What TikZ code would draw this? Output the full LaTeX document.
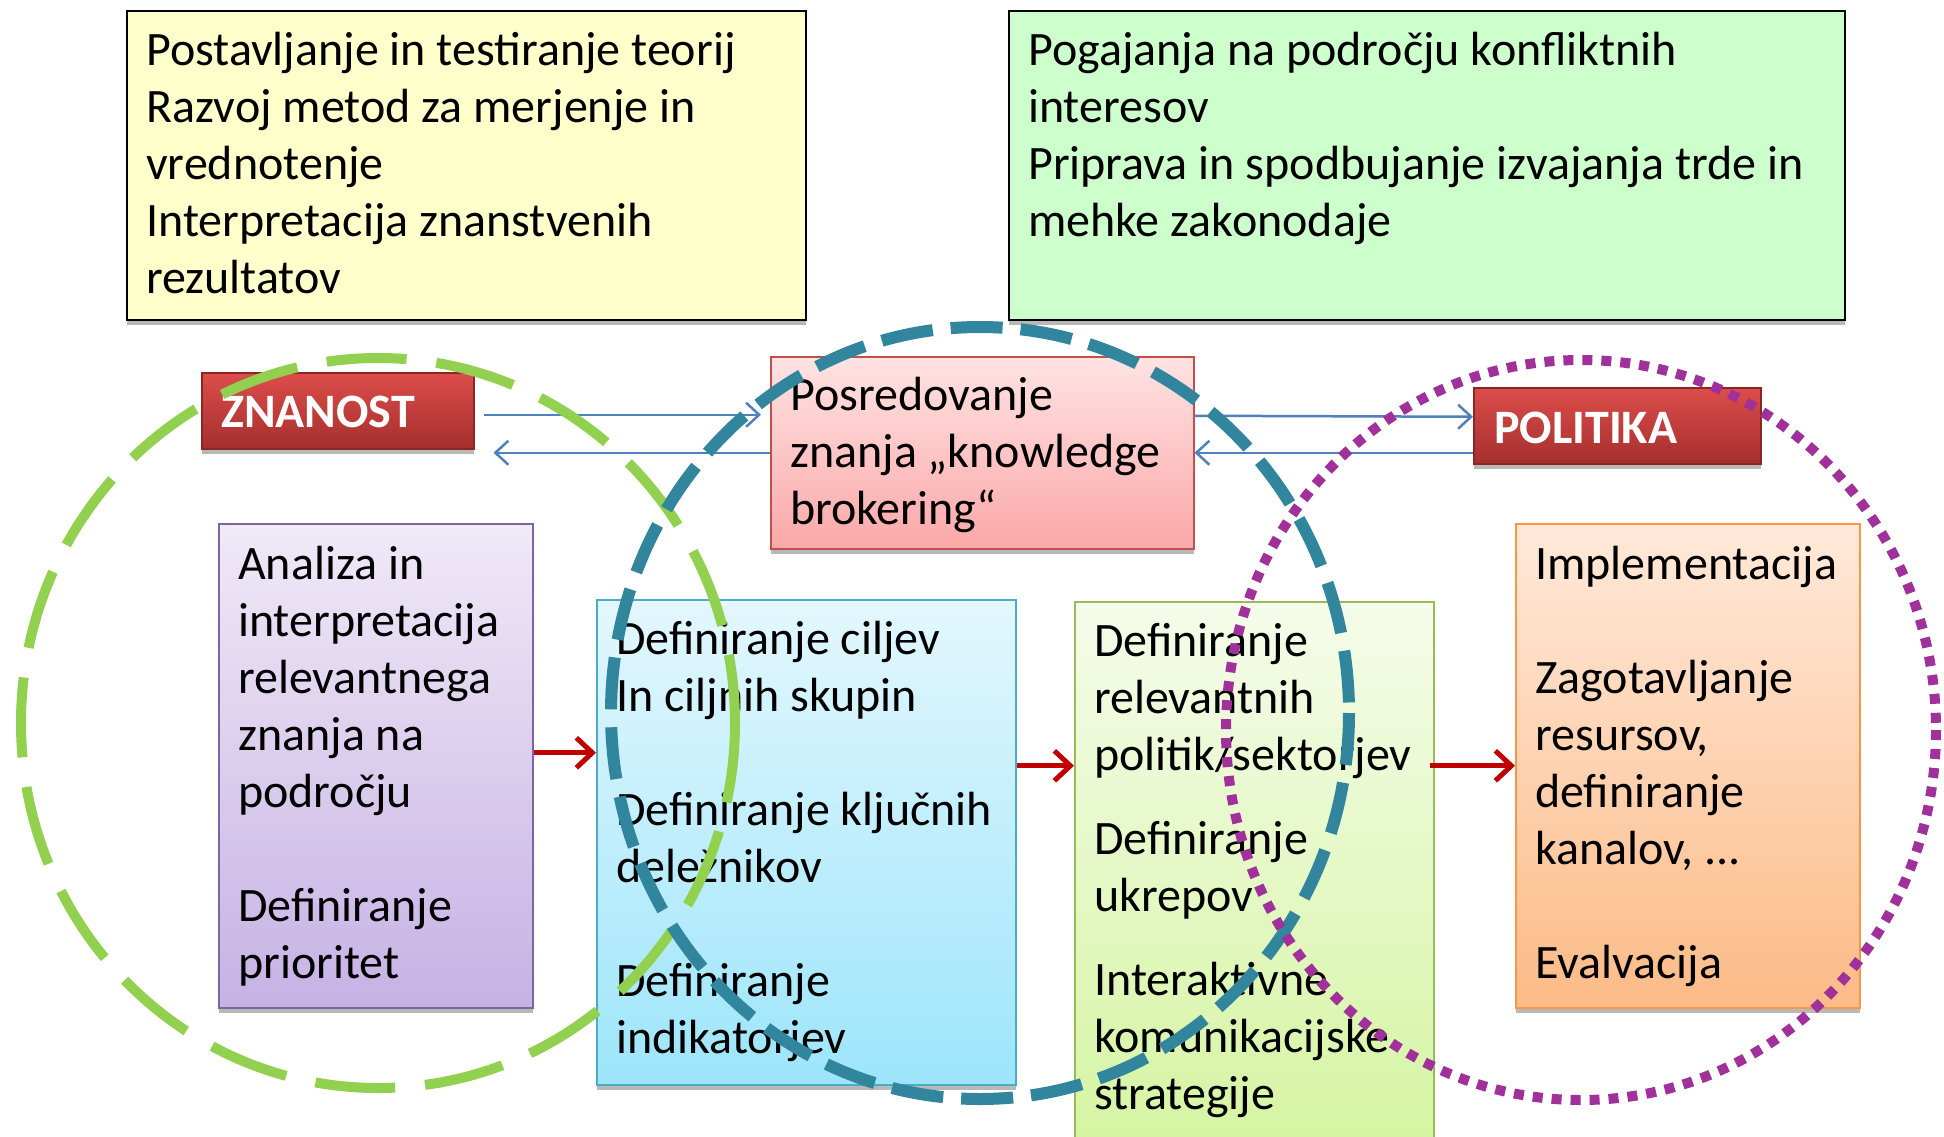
\documentclass[tikz,border=0pt]{standalone}
\usepackage{fontspec}
\setmainfont{Carlito}
\usetikzlibrary{arrows.meta,shadows}
\definecolor{yelfill}{HTML}{FFFFCC}
\definecolor{grnfill}{HTML}{CCFFCC}
\definecolor{pinktop}{HTML}{FFE3E3}
\definecolor{pinkbot}{HTML}{FBA8A8}
\definecolor{pinkbd}{HTML}{C0504D}
\definecolor{redtop}{HTML}{DC4D4A}
\definecolor{redbot}{HTML}{A52F2D}
\definecolor{redbd}{HTML}{8C2624}
\definecolor{purtop}{HTML}{F0E9F7}
\definecolor{purbot}{HTML}{C6B2E4}
\definecolor{purbd}{HTML}{8064A2}
\definecolor{cyatop}{HTML}{E3F7FD}
\definecolor{cyabot}{HTML}{9DE5FB}
\definecolor{cyabd}{HTML}{4BACC6}
\definecolor{lgrtop}{HTML}{F5FCEA}
\definecolor{lgrbot}{HTML}{D4F4A0}
\definecolor{lgrbd}{HTML}{9BBB59}
\definecolor{oratop}{HTML}{FFE9DA}
\definecolor{orabot}{HTML}{FCBB87}
\definecolor{orabd}{HTML}{F79646}
\definecolor{arrblue}{HTML}{4F81BD}
\definecolor{arrred}{HTML}{C00000}
\definecolor{circgreen}{HTML}{92D050}
\definecolor{circteal}{HTML}{31859C}
\definecolor{circpurp}{HTML}{A0309A}
\begin{document}
\begin{tikzpicture}[x=1pt,y=-1pt,
  box/.style={rectangle, inner sep=0pt, anchor=north west, line width=1.5pt},
  shad/.style={drop shadow={shadow xshift=0pt, shadow yshift=-5pt, opacity=0.28, fill=black}},
  txt/.style={inner sep=0pt, anchor=base west, font=\fontsize{48}{57}\selectfont, text=black},
  btntxt/.style={inner sep=0pt, anchor=base west, font=\fontsize{48}{57}\selectfont\bfseries, text=white},
  bluearr/.style={draw=arrblue, line width=2.5pt, -{Straight Barb[length=13pt,width=24pt,line width=2.5pt]}},
  redarr/.style={draw=arrred, line width=5pt, -{Straight Barb[length=16pt,width=30pt,line width=5pt]}},
  greencirc/.style={draw=circgreen, line width=10pt, dash pattern=on 80pt off 30pt},
  tealcirc/.style={draw=circteal, line width=12pt, dash pattern=on 52pt off 18pt},
  purpcirc/.style={draw=circpurp, line width=10pt, dash pattern=on 10pt off 9pt}
]
\fill[white] (0,0) rectangle (1944,1136);
\useasboundingbox (0,0) rectangle (1944,1136);

% boxes
\node[box, shad, draw=black, fill=yelfill, minimum width=679pt, minimum height=309pt] (yel) at (126,10) {};
\node[box, shad, draw=black, fill=grnfill, minimum width=836pt, minimum height=309pt] (grn) at (1008,10) {};
\node[box, shad, draw=redbd, top color=redtop, bottom color=redbot, minimum width=272pt, minimum height=76pt] (zn) at (201,372) {};
\node[box, shad, draw=pinkbd, top color=pinktop, bottom color=pinkbot, minimum width=423pt, minimum height=192pt] (brk) at (770,356) {};
\node[box, shad, draw=redbd, top color=redtop, bottom color=redbot, minimum width=287pt, minimum height=76pt] (pol) at (1473,387) {};
\node[box, shad, draw=purbd, top color=purtop, bottom color=purbot, minimum width=314pt, minimum height=484pt] (pur) at (218,523) {};
\node[box, shad, draw=cyabd, top color=cyatop, bottom color=cyabot, minimum width=419pt, minimum height=485pt] (cya) at (596,599) {};
\node[box, shad, draw=lgrbd, top color=lgrtop, bottom color=lgrbot, minimum width=359pt, minimum height=560pt] (lgr) at (1074,601) {};
\node[box, shad, draw=orabd, top color=oratop, bottom color=orabot, minimum width=344pt, minimum height=484pt] (ora) at (1515,523) {};

% texts
\node[txt] (yelt) at (146,65) {\vtop{\hbox{Postavljanje in testiranje teorij}\hbox{Razvoj metod za merjenje in}\hbox{vrednotenje}\hbox{Interpretacija znanstvenih}\hbox{rezultatov}}};
\node[txt] (grnt) at (1028,65) {\vtop{\hbox{Pogajanja na področju konfliktnih}\hbox{interesov}\hbox{Priprava in spodbujanje izvajanja trde in}\hbox{mehke zakonodaje}}};
\node[btntxt] (znt) at (221,427) {ZNANOST};
\node[btntxt] (polt) at (1494,443) {POLITIKA};
\node[txt] (brkt) at (790,410) {\vtop{\hbox{Posredovanje}\hbox{znanja „knowledge}\hbox{brokering“}}};
\node[txt] (purt) at (238,579) {\vtop{\hbox{Analiza in}\hbox{interpretacija}\hbox{relevantnega}\hbox{znanja na}\hbox{področju}\hbox{}\hbox{Definiranje}\hbox{prioritet}}};
\node[txt] (cyat) at (616,654) {\vtop{\hbox{Definiranje ciljev}\hbox{In ciljnih skupin}\hbox{}\hbox{Definiranje ključnih}\hbox{deležnikov}\hbox{}\hbox{Definiranje}\hbox{indikatorjev}}};
\node[txt] (lgrt) at (1094,656) {\vtop{\hbox{Definiranje}\hbox{relevantnih}\hbox{politik/sektorjev}\vskip 27pt\hbox{Definiranje}\hbox{ukrepov}\vskip 27pt\hbox{Interaktivne}\hbox{komunikacijske}\hbox{strategije}}};
\node[txt] (orat) at (1535,579) {\vtop{\hbox{Implementacija}\hbox{}\hbox{Zagotavljanje}\hbox{resursov,}\hbox{definiranje}\hbox{kanalov, ...}\hbox{}\hbox{Evalvacija}}};

% blue connectors
\coordinate (zl) at ([xshift=19pt]zn.east);
\draw[bluearr] ([xshift=9pt,yshift=-4pt]zn.east) -- ([xshift=-9pt,yshift=38pt]brk.west);
\draw[bluearr] (brk.west) -- (zl |- brk.west);
\draw[bluearr] ([yshift=37pt]brk.east) -- ([yshift=9pt]pol.west);
\draw[bluearr] (pol.west |- brk.east) -- (brk.east);

% red connectors
\coordinate (r1) at ([yshift=13pt]pur.east);
\draw[redarr] (r1) -- (r1 -| cya.west);
\coordinate (r2) at (cya.east |- ora.west);
\draw[redarr] (r2) -- (r2 -| lgr.west);
\coordinate (r3) at ([xshift=-5pt]lgr.east |- ora.west);
\draw[redarr] (r3) -- (ora.west);

% circles
\draw[greencirc] (378,723) ellipse [x radius=357, y radius=365];
\draw[tealcirc] (980,713) ellipse [x radius=369, y radius=386];
\draw[purpcirc] (1581,730) ellipse [x radius=355, y radius=370];
\end{tikzpicture}
\end{document}
